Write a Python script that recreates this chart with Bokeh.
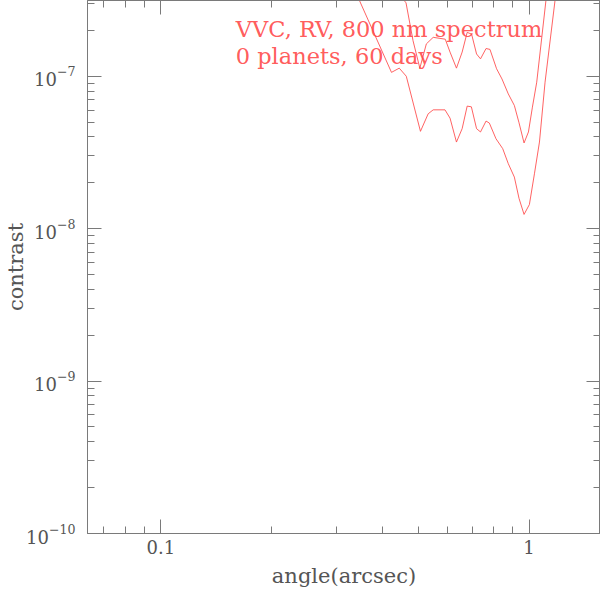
from bokeh.plotting import figure
from bokeh.models import LogAxis, FixedTicker, CustomJSTickFormatter, Label
from bokeh.embed import file_html
from bokeh.resources import INLINE

# ---- data ----
lower_angle = [0.332, 0.345, 0.423, 0.444, 0.464, 0.507, 0.532, 0.549, 0.591, 0.610,
               0.635, 0.658, 0.679, 0.697, 0.720, 0.738, 0.764, 0.780, 0.813, 0.848,
               0.878, 0.912, 0.939, 0.969, 1.002, 1.034, 1.067, 1.105, 1.177, 1.194]
lower_contrast = [3.99e-7, 3.20e-7, 1.06e-7, 1.13e-7, 1.00e-7, 4.35e-8, 5.67e-8, 6.02e-8,
                  6.02e-8, 5.31e-8, 3.70e-8, 4.53e-8, 6.37e-8, 6.30e-8, 4.53e-8, 4.31e-8,
                  5.08e-8, 4.93e-8, 3.89e-8, 3.35e-8, 2.67e-8, 2.18e-8, 1.58e-8, 1.24e-8,
                  1.44e-8, 2.29e-8, 3.70e-8, 9.14e-8, 3.19e-7, 4.44e-7]

upper_angle = [0.406, 0.427, 0.449, 0.463, 0.484, 0.505, 0.526, 0.549, 0.592, 0.610,
               0.635, 0.658, 0.679, 0.698, 0.720, 0.738, 0.764, 0.783, 0.816, 0.844,
               0.878, 0.912, 0.939, 0.969, 0.996, 1.021, 1.049, 1.112, 1.128]
upper_contrast = [3.82e-7, 3.33e-7, 3.28e-7, 3.05e-7, 1.71e-7, 1.13e-7, 1.63e-7, 1.80e-7,
                  1.75e-7, 1.44e-7, 1.13e-7, 1.44e-7, 1.94e-7, 1.89e-7, 1.40e-7, 1.30e-7,
                  1.52e-7, 1.50e-7, 1.12e-7, 9.60e-8, 7.66e-8, 6.43e-8, 4.95e-8, 3.65e-8,
                  4.31e-8, 6.27e-8, 9.14e-8, 3.19e-7, 4.44e-7]

x_major = [0.1, 1.0]
x_minor = [0.07, 0.08, 0.09, 0.2, 0.3, 0.4, 0.5, 0.6, 0.7, 0.8, 0.9]
y_major = [1e-10, 1e-9, 1e-8, 1e-7]
y_minor = [2e-10, 3e-10, 4e-10, 5e-10, 6e-10, 7e-10, 8e-10, 9e-10,
           2e-9, 3e-9, 4e-9, 5e-9, 6e-9, 7e-9, 8e-9, 9e-9,
           2e-8, 3e-8, 4e-8, 5e-8, 6e-8, 7e-8, 8e-8, 9e-8,
           2e-7, 3e-7]

annot_lines = ["VVC, RV, 800 nm spectrum", "0 planets, 60 days"]
annot_x = 0.1597
annot_y = [2.04e-7, 1.351e-7]

x_limits = (0.0632, 1.563)
y_limits = (1e-10, 3.14e-7)

AX = "#7a7a7a"
TXT = "#555555"
RED = "#ff4848"
FONT = "DejaVu Serif"

p = figure(width=600, height=590, x_axis_type="log", y_axis_type="log",
           x_range=x_limits, y_range=y_limits, output_backend="svg",
           toolbar_location=None, min_border_left=87, min_border_right=0,
           min_border_top=0, min_border_bottom=57,
           x_axis_label="angle(arcsec)", y_axis_label="contrast")
p.grid.visible = False
p.outline_line_color = AX
p.background_fill_color = "white"
p.border_fill_color = "white"

p.line(lower_angle, lower_contrast, line_color=RED, line_width=1, line_alpha=0.85)
p.line(upper_angle, upper_contrast, line_color=RED, line_width=1, line_alpha=0.85)

for txt, yy in zip(annot_lines, annot_y):
    p.add_layout(Label(x=annot_x, y=yy, text=txt, text_color=RED, text_font=FONT,
                       text_font_size="22.5px", text_baseline="alphabetic",
                       text_alpha=0.9))


def style(ax, labels=True):
    ax.axis_line_color = AX
    ax.major_tick_line_color = AX
    ax.minor_tick_line_color = AX
    ax.major_tick_in = 14
    ax.major_tick_out = 0
    ax.minor_tick_in = 7
    ax.minor_tick_out = 0
    ax.major_label_text_color = TXT
    ax.major_label_text_font = FONT
    ax.major_label_text_font_size = "18px"
    ax.axis_label_text_color = TXT
    ax.axis_label_text_font = FONT
    ax.axis_label_text_font_size = "21px"
    ax.axis_label_text_font_style = "normal"
    if not labels:
        ax.major_label_text_font_size = "0px"
        ax.major_label_standoff = 0
        ax.formatter = CustomJSTickFormatter(code="return '';")


xt = FixedTicker(ticks=x_major, minor_ticks=x_minor)
yt = FixedTicker(ticks=y_major, minor_ticks=y_minor)

xa = p.xaxis[0]
xa.ticker = xt
xa.formatter = CustomJSTickFormatter(code="return tick.toString();")
style(xa)
xa.major_label_standoff = 6
xa.axis_label_standoff = 7

ya = p.yaxis[0]
ya.ticker = yt
style(ya)
ya.major_label_standoff = 12
ya.axis_label_standoff = -5

top = LogAxis(ticker=FixedTicker(ticks=x_major, minor_ticks=x_minor))
style(top, labels=False)
p.add_layout(top, "above")
right = LogAxis(ticker=FixedTicker(ticks=y_major, minor_ticks=y_minor))
style(right, labels=False)
p.add_layout(right, "right")

open("out.html", "w").write(file_html(p, INLINE))
